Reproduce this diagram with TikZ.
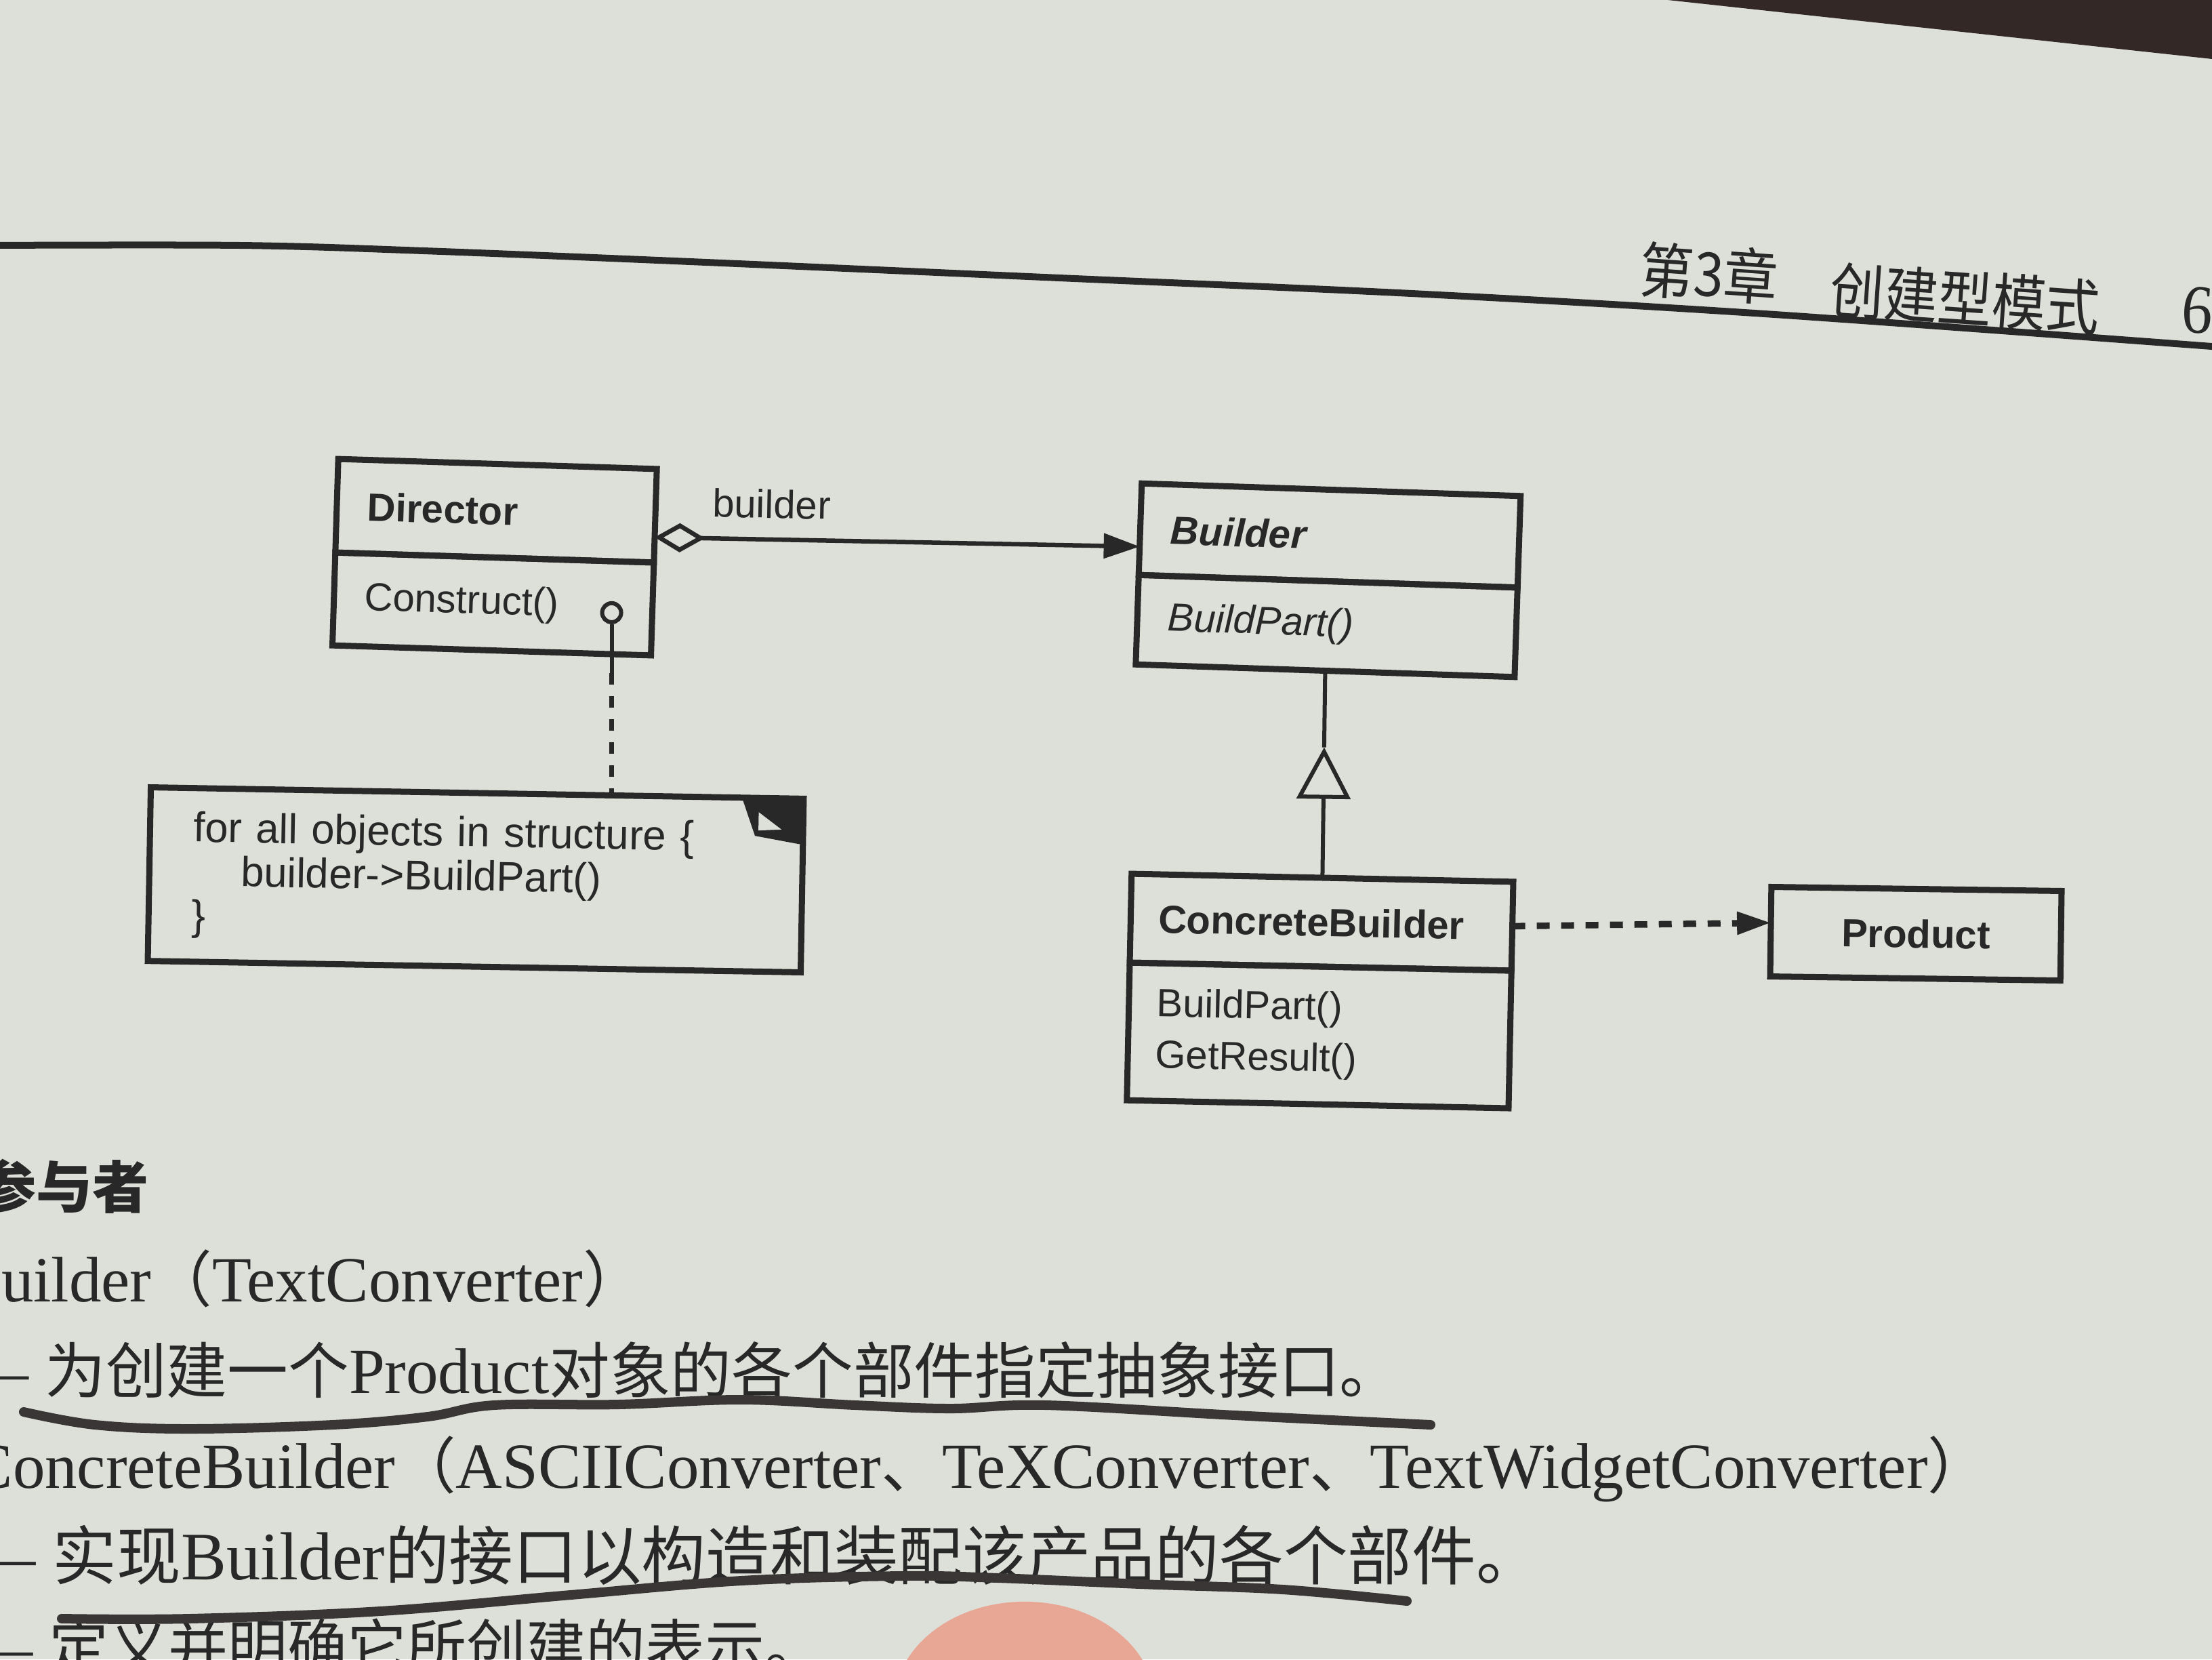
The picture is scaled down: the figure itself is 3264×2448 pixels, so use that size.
\documentclass[tikz,border=0pt]{standalone}
\usepackage{fontspec}
\setmainfont{Liberation Serif}
\newfontfamily\diagsans{Liberation Sans}
\newfontfamily\cjk{Noto Sans CJK SC}[Scale=0.945]
\usepackage{tikz}
\usetikzlibrary{arrows.meta,calc,positioning}

\definecolor{paper}{RGB}{221,224,216}
\definecolor{ink}{RGB}{40,40,40}
\definecolor{pen}{RGB}{58,54,54}
\definecolor{skin}{RGB}{232,166,148}
\definecolor{offpage}{RGB}{52,40,38}

\newcommand{\diagfont}{\diagsans\fontsize{16.5}{20}\selectfont}
\newcommand{\notefont}{\diagsans\fontsize{17.5}{18.4}\selectfont}

\tikzset{
  umlpart/.style={draw=ink, line width=0.9mm, outer sep=0pt, text=ink, inner xsep=4.5mm, inner ysep=0pt, align=left, font=\diagfont},
  rolelabel/.style={above=1.6mm, sloped, text=ink, font=\diagfont},
  assoc/.style={draw=ink, line width=0.65mm, arrows={Diamond[open,length=7.4mm,width=4.3mm]-Triangle[length=5.3mm,width=3.6mm]}},
  genline/.style={draw=ink, line width=0.6mm, -{Triangle[open,length=7.6mm,width=7.9mm]}},
  plainline/.style={draw=ink, line width=0.6mm},
  depline/.style={draw=ink, line width=0.95mm, dash pattern=on 1.9mm off 1.7mm, -{Triangle[length=5mm,width=3.2mm]}},
  notelink/.style={draw=ink, line width=0.65mm, dash pattern=on 1.7mm off 1.7mm},
  bodytext/.style={anchor=base west, inner sep=0pt, text=ink, font=\fontsize{27}{32}\selectfont},
  hdrtext/.style={anchor=base west, inner sep=0pt, text=ink, rotate=-4, yscale=1.12, font=\cjk\fontsize{24}{28}\selectfont},
  penline/.style={draw=pen, line width=1.4mm, line cap=round, line join=round}
}

\begin{document}
\begin{tikzpicture}[x=0.01cm, y=-0.01cm]
     \useasboundingbox (0,0) rectangle (3264,2448);
     \clip (0,0) rectangle (3264,2448);
     \fill[paper] (0,0) rectangle (3264,2448);
     \fill[offpage] (2461,0) -- (3264,0) -- (3264,87) -- cycle;

     \draw[ink, line width=1mm] plot[smooth, tension=0.55] coordinates {(-20,362) (354,362) (625,370) (1042,387) (1563,410) (2083,433) (2604,463) (3290,513)};
     \node[hdrtext] at (2417,430) (chapno) {第3章};
     \node[hdrtext] at (2698,460) (chapname) {创建型模式};
     \node[hdrtext, font=\fontsize{26}{30}\selectfont] at (3217,489) (pageno) {6};

     \node[umlpart, rotate=-1.8, text width=38mm, minimum height=13.8mm] at (732,753.5) (dirn) {\textbf{Director}};
     \node[umlpart, rotate=-1.8, text width=38mm, minimum height=13.7mm, anchor=north] at (dirn.south) (diro) {Construct()};
     \node[umlpart, rotate=-1.9, text width=46.9mm, minimum height=13.5mm] at (1962,790) (bldn) {\textbf{\textit{Builder}}};
     \node[umlpart, rotate=-1.9, text width=46.9mm, minimum height=13.2mm, anchor=north] at (bldn.south) (bldo) {\textit{BuildPart()}};
     \node[umlpart, rotate=-1.2, inner xsep=4.1mm, text width=48.1mm, minimum height=13.1mm] at (1950,1360.5) (cbn) {\textbf{ConcreteBuilder}};
     \node[umlpart, rotate=-1.2, inner xsep=4.1mm, text width=48.1mm, minimum height=20.3mm, anchor=north, font=\diagsans\fontsize{16.5}{21.6}\selectfont] at (cbn.south) (cbo) {BuildPart()\\GetResult()};
     \node[umlpart, rotate=-0.8, text width=33.8mm, minimum height=13.2mm, align=center] at (2827,1377.5) (prod) {\textbf{Product}};
     \node[umlpart, rotate=-1, inner xsep=6.4mm, text width=83.5mm, minimum height=25.6mm, font=\notefont] at (702,1298) (note) {for all objects in structure \{\\\hspace*{7.1mm}builder->BuildPart()\\\}};
     \begin{scope}[shift={(note.north east)}, rotate=-1]
          \fill[ink] (-91,0) -- (0,0) -- (0,68) -- (-71,56) -- cycle;
          \fill[paper] (-66,21) -- (-66,48) -- (-32,46) -- cycle;
     \end{scope}

     \node[draw=ink, fill=paper, circle, line width=0.6mm, minimum size=2.8mm, inner sep=0pt] at ($(diro.south east)+(-58,-63)$) (hook) {};
     \coordinate (hookend) at ($(hook.south)+(0,72)$);
     \coordinate (diragg) at ($(dirn.north east)!0.73!(dirn.south east)$);
     \coordinate (bldagg) at ($(bldn.north west)!0.69!(bldn.south west)$);
     \coordinate (gentip) at ($(bldo.south)!0.37!(cbn.north)$);
     \coordinate (prodin) at ($(prod.north west)!0.4!(prod.south west)$);

     \draw[plainline] (hook) -- (hookend);
     \draw[notelink] (hookend) -- (hookend |- note.north);
     \draw[assoc] (diragg) -- node[rolelabel, pos=0.24] (role) {builder} (bldagg);
     \draw[genline] (cbn.north) -- (gentip);
     \draw[plainline] (gentip) -- (bldo.south);
     \draw[depline] (cbn.east) -- (prodin);

     \node[bodytext, font=\cjk\bfseries\fontsize{25}{30}\selectfont] at (-30,1782) (parts) {参与者};
     \node[bodytext] at (-62,1920) (bldline) {Builder{\cjk （}TextConverter{\cjk ）}};
     \node[bodytext] at (-53,2055) (bldduty) {— {\cjk 为创建一个}Product{\cjk 对象的各个部件指定抽象接口。}};
     \node[bodytext] at (-45,2195) (cbline) {ConcreteBuilder{\cjk （}ASCIIConverter{\cjk 、}TeXConverter{\cjk 、}TextWidgetConverter{\cjk ）}};
     \node[bodytext, font=\fontsize{28.5}{34}\selectfont] at (-48,2330) (cbduty) {— {\cjk 实现}Builder{\cjk 的接口以构造和装配该产品的各个部件。}};
     \node[bodytext, font=\fontsize{26.5}{32}\selectfont] at (-45,2462) (cbshow) {— {\cjk 定义并明确它所创建的表示。}};

     \draw[penline] plot[smooth, tension=0.6] coordinates {(35,2083) (140,2102) (280,2108) (491,2102) (631,2090) (729,2073) (912,2072) (1094,2065) (1262,2073) (1403,2078) (1543,2073) (1823,2088) (2111,2102)};
     \draw[penline] plot[smooth, tension=0.6] coordinates {(91,2388) (280,2388) (561,2377) (842,2353) (1094,2332) (1332,2325) (1473,2328) (1683,2337) (1893,2345) (2076,2362)};

     \fill[skin] (1512,2513) ellipse [x radius=19.2mm, y radius=15mm];
\end{tikzpicture}
\end{document}
